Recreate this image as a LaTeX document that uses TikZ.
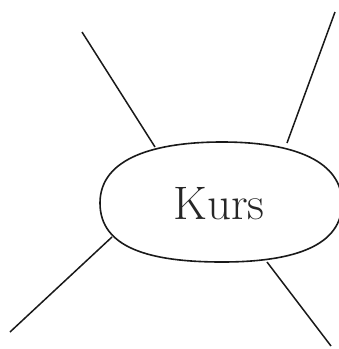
\documentclass[tikz,border=0pt]{standalone}
\begin{document}
\begin{tikzpicture}[x=1pt,y=-1pt,
  stroke/.style={line width=1.6pt,draw=black!90},
  spoke/.style={line width=1.5pt,draw=black!90}]
\useasboundingbox (0,0) rectangle (339,349);
\draw[stroke] (100,203) .. controls (100,158) and (155,142) .. (222,142)
  .. controls (296,142) and (342,162) .. (342,203)
  .. controls (342,245) and (296,262) .. (222,262)
  .. controls (150,262) and (100,248) .. (100,203);
\node[font=\fontsize{47}{52}\selectfont, text=black!85] (kurs) at (219,204) {Kurs};
\coordinate (a1) at (155,147);
\coordinate (a2) at (287,143);
\coordinate (a3) at (112,237);
\coordinate (a4) at (267,262);
\coordinate (e1) at (82,32);
\coordinate (e2) at (335,12);
\coordinate (e3) at (10,332);
\coordinate (e4) at (331,346);
\draw[spoke] (a1) -- (e1);
\draw[spoke] (a2) -- (e2);
\draw[spoke] (a3) -- (e3);
\draw[spoke] (a4) -- (e4);
\end{tikzpicture}
\end{document}
